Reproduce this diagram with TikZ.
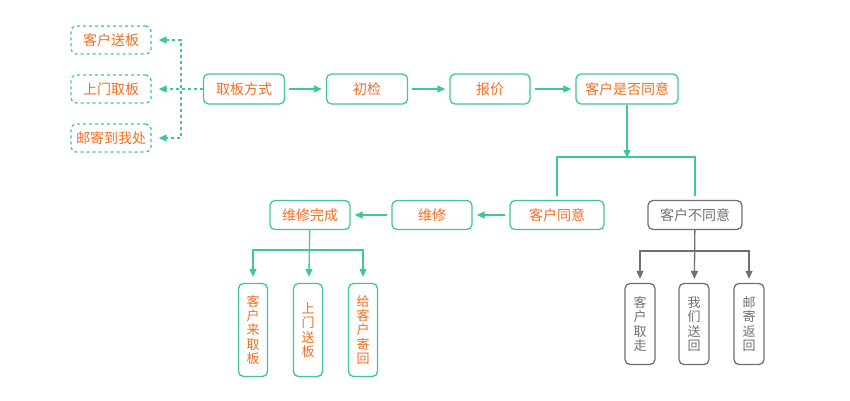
\documentclass[tikz,border=0pt]{standalone}
\usepackage{fontspec}
\newfontfamily\cjk{Noto Sans CJK SC}
\usetikzlibrary{arrows.meta}
\definecolor{mint}{RGB}{62,200,150}
\definecolor{tangerine}{RGB}{243,110,32}
\definecolor{slate}{RGB}{112,112,112}
\tikzset{
  box/.style={draw=mint, line width=1.3pt, rounded corners=5pt, text=tangerine,
    font=\cjk\fontsize{14}{16}\selectfont, inner sep=0pt, minimum height=29pt},
  greybox/.style={box, draw=slate, text=slate},
  dashbox/.style={box, dash pattern=on 3pt off 3pt, minimum width=80pt, minimum height=28pt},
  tallbox/.style={box, font=\cjk\fontsize{13}{14.4}\selectfont, align=center,
    minimum width=29pt, minimum height=93pt},
  link/.style={draw=mint, line width=1.3pt, -{Triangle[length=8pt,width=7pt]}},
  greylink/.style={link, draw=slate, -{Triangle[length=8pt,width=7pt]}},
}
\begin{document}
\begin{tikzpicture}[x=1pt, y=-1pt]
    \useasboundingbox (0,0) rectangle (850,400);
    % top row
    \node[box, minimum width=81pt, minimum height=30pt] (A0_0) at (244,89) {取板方式};
    \node[box, minimum width=81pt, minimum height=30pt] (A0_1) at (367,89) {初检};
    \node[box, minimum width=80pt, minimum height=30pt] (A0_2) at (490,89) {报价};
    \node[box, minimum width=102pt, minimum height=30pt] (A0_3) at (627,89) {客户是否同意};
    \path (A0_0) edge [link, shorten <=4pt, shorten >=4pt] (A0_1);
    \path (A0_1) edge [link, shorten <=4pt, shorten >=4pt] (A0_2);
    \path (A0_2) edge [link, shorten <=4pt, shorten >=4pt] (A0_3);
    % ways of getting the board
    \node[dashbox] (B0) at (111,40) {客户送板};
    \node[dashbox] (B1) at (111,89) {上门取板};
    \node[dashbox] (B2) at (111,138) {邮寄到我处};
    \coordinate (D2) at (181,138);
    \draw[link, dash pattern=on 3pt off 3pt, shorten >=7pt] (A0_0.west) -- (B1.east);
    \draw[link, dash pattern=on 3pt off 3pt, {Triangle[length=8pt,width=7pt]}-{Triangle[length=8pt,width=7pt]},
      shorten <=7pt, shorten >=7pt] (B0.east) -| (D2) -- (B2.east);
    % second row
    \node[box, minimum width=80pt] (A1_0) at (310,215) {维修完成};
    \node[box, minimum width=80pt] (A1_1) at (432,215) {维修};
    \node[box, minimum width=94pt] (A1_2) at (557,215) {客户同意};
    \node[greybox, minimum width=94pt] (A1_3) at (695,215) {客户不同意};
    \coordinate (J0) at (627,157);
    \draw[link, shorten >=-1pt] (A0_3) -- (J0);
    \draw[draw=mint, line width=1.3pt, shorten <=4pt, shorten >=4pt]
      (A1_2.north) |- (J0) -| (A1_3.north);
    \path (A1_2) edge [link, shorten <=4pt, shorten >=4pt] (A1_1);
    \path (A1_1) edge [link, shorten <=4pt, shorten >=4pt] (A1_0);
    % bottom left
    \node[tallbox] (A2_0) at (253,330) {客\\户\\来\\取\\板};
    \node[tallbox] (A2_1) at (308,330) {上\\门\\送\\板};
    \node[tallbox] (A2_2) at (363,330) {给\\客\\户\\寄\\回};
    \coordinate (J1) at (308,250);
    \draw[link, shorten >=6pt] (A1_0) -- (A2_1);
    \draw[link, {Triangle[length=8pt,width=7pt]}-{Triangle[length=8pt,width=7pt]},
      shorten <=6pt, shorten >=6pt] (A2_0.north) |- (J1) -| (A2_2.north);
    % bottom right
    \node[tallbox, draw=slate, text=slate, minimum width=30pt, minimum height=81pt] (A2_3) at (640,324) {客\\户\\取\\走};
    \node[tallbox, draw=slate, text=slate, minimum width=30pt, minimum height=81pt] (A2_4) at (694,324) {我\\们\\送\\回};
    \node[tallbox, draw=slate, text=slate, minimum width=30pt, minimum height=81pt] (A2_5) at (749,324) {邮\\寄\\返\\回};
    \coordinate (J2) at (694,251);
    \draw[greylink, shorten >=4pt] (A1_3) -- (A2_4);
    \draw[greylink, {Triangle[length=8pt,width=7pt]}-{Triangle[length=8pt,width=7pt]},
      shorten <=4pt, shorten >=4pt] (A2_3.north) |- (J2) -| (A2_5.north);
\end{tikzpicture}
\end{document}
